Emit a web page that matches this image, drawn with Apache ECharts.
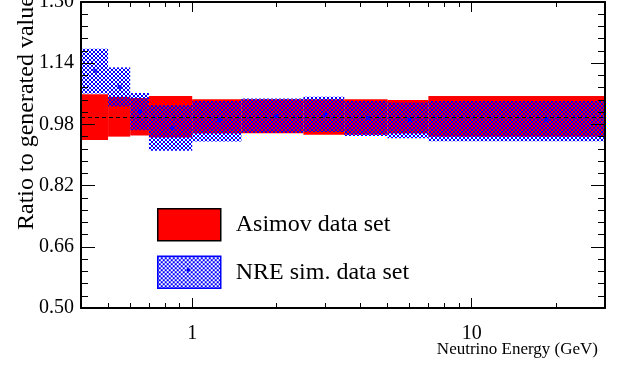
<!DOCTYPE html>
<html>
<head>
<meta charset="utf-8">
<script src="https://cdn.jsdelivr.net/npm/echarts@6/dist/echarts.min.js"></script>
<style>
html,body{margin:0;padding:0;background:#fff;}
#chart{width:626px;height:375px;}
</style>
</head>
<body>
<div id="chart"></div>
<script>
// ---- data ----
const binLow  = [0.4, 0.5, 0.6, 0.7, 1.0, 1.5, 2.5, 3.5, 5, 7];
const binHigh = [0.5, 0.6, 0.7, 1.0, 1.5, 2.5, 3.5, 5, 7, 30];
const asimovLow  = [0.939, 0.948, 0.951, 0.946, 0.956, 0.957, 0.953, 0.953, 0.956, 0.948];
const asimovHigh = [1.059, 1.052, 1.049, 1.054, 1.046, 1.046, 1.046, 1.046, 1.044, 1.054];
const nreEnergy = [0.45, 0.55, 0.65, 0.85, 1.25, 2.0, 3.0, 4.25, 6.0, 18.5];
const nreValue  = [1.120, 1.078, 1.014, 0.971, 0.991, 1.002, 1.005, 0.997, 0.992, 0.992];
const nreLow    = [1.061, 1.027, 0.965, 0.911, 0.935, 0.958, 0.960, 0.950, 0.944, 0.936];
const nreHigh   = [1.178, 1.129, 1.062, 1.030, 1.041, 1.048, 1.052, 1.041, 1.037, 1.041];
const referenceRatio = 1.0;
const xMajorTicks = [1, 10];
const xMinorTicks = [0.5, 0.6, 0.7, 0.8, 0.9, 2, 3, 4, 5, 6, 7, 8, 9, 20];
const yTickMin = 0.5, yTickMax = 1.3, yTickStep = 0.16;
const xMin = 0.4, xMax = 30;
const seriesNames = ['Asimov data set', 'NRE sim. data set'];

// ---- hatch pattern ----
const tile = document.createElement('canvas');
tile.width = 4; tile.height = 4;
const tctx = tile.getContext('2d');
tctx.fillStyle = '#0000ff';
const tileMask = ['.BB.', 'B..B', 'B..B', '.BB.'];
tileMask.forEach((row, y) => { for (let x = 0; x < 4; x++) if (row[x] === 'B') tctx.fillRect(x, y, 1, 1); });
const hatch = { image: tile, repeat: 'repeat' };

const serif = "'Liberation Serif','Times New Roman',serif";

const asimovData = binLow.map((l, i) => [l, binHigh[i], asimovLow[i], asimovHigh[i]]);
const nreBoxData = binLow.map((l, i) => [l, binHigh[i], nreLow[i], nreHigh[i]]);
const nrePoints = nreEnergy.map((e, i) => [e, nreValue[i]]);

function boxRenderer(fill) {
  return function (params, api) {
    const p0 = api.coord([api.value(0), api.value(3)]);
    const p1 = api.coord([api.value(1), api.value(2)]);
    return {
      type: 'rect',
      shape: { x: p0[0], y: p0[1], width: p1[0] - p0[0], height: p1[1] - p0[1] },
      style: { fill: fill, stroke: null }
    };
  };
}

function xAxisDef(pos, major) {
  return {
    type: 'log', logBase: 10, min: xMin, max: xMax, position: pos, z: 10,
    axisLine: { show: major, onZero: false, lineStyle: { color: '#000', width: 2 } },
    axisTick: { show: true, inside: true, length: major ? 10 : 5,
      customValues: major ? xMajorTicks : xMinorTicks,
      lineStyle: { color: '#000', width: 1 } },
    axisLabel: (major && pos === 'bottom') ? {
      show: true, customValues: xMajorTicks, margin: 16,
      fontSize: 20, fontFamily: serif, color: '#000',
      formatter: v => String(v)
    } : { show: false },
    splitLine: { show: false }
  };
}
function yAxisDef(pos) {
  return {
    type: 'value', min: yTickMin, max: yTickMax, interval: yTickStep, position: pos, z: 10,
    axisLine: { show: true, onZero: false, lineStyle: { color: '#000', width: 2 } },
    axisTick: { show: true, inside: true, length: 14, lineStyle: { color: '#000', width: 1 } },
    minorTick: { show: true, splitNumber: 5, length: 7, lineStyle: { color: '#000', width: 1 } },
    axisLabel: pos === 'left' ? {
      show: true, margin: 7, fontSize: 20, fontFamily: serif, color: '#000',
      showMinLabel: true, showMaxLabel: true,
      formatter: v => v.toFixed(2)
    } : { show: false },
    splitLine: { show: false }
  };
}

const chart = echarts.init(document.getElementById('chart'), null, { renderer: 'canvas' });
chart.setOption({
  animation: false,
  backgroundColor: '#fff',
  grid: { left: 81, right: 21, top: 2, bottom: 67, containLabel: false, outerBoundsMode: 'none' },
  xAxis: [xAxisDef('bottom', true), xAxisDef('bottom', false), xAxisDef('top', true), xAxisDef('top', false)],
  yAxis: [yAxisDef('left'), yAxisDef('right')],
  legend: {
    orient: 'vertical', left: 157, top: 208, padding: 0,
    itemWidth: 63, itemHeight: 32, itemGap: 14, selectedMode: false,
    textStyle: { fontSize: 24, fontFamily: serif, color: '#000', padding: [0, 0, 0, 10] },
    data: [
      { name: seriesNames[0], icon: 'rect', itemStyle: { color: '#ff0000', borderColor: '#000', borderWidth: 1.5 } },
      { name: seriesNames[1], icon: 'rect', itemStyle: { color: hatch, borderColor: '#0000ff', borderWidth: 1.5 } }
    ]
  },
  graphic: [
    { type: 'text', x: 27, y: 230, rotation: Math.PI / 2,
      style: { text: 'Ratio to generated value', font: "24px 'Liberation Serif','Times New Roman',serif",
        fill: '#000', align: 'left', verticalAlign: 'middle' } },
    { type: 'text', x: 598, y: 350,
      style: { text: 'Neutrino Energy (GeV)', font: "17px 'Liberation Serif','Times New Roman',serif",
        fill: '#000', align: 'right', verticalAlign: 'middle' } },
    { type: 'rect', shape: { x: 187, y: 268.5, width: 3, height: 3 }, style: { fill: '#0000ff' }, z: 100 }
  ],
  series: [
    { name: seriesNames[0], type: 'custom', xAxisIndex: 0, yAxisIndex: 0, z: 2,
      renderItem: boxRenderer('#ff0000'), encode: { x: [0, 1], y: [2, 3] }, data: asimovData, silent: true,
      itemStyle: { color: '#ff0000' } },
    { name: seriesNames[1], type: 'custom', xAxisIndex: 0, yAxisIndex: 0, z: 3,
      renderItem: boxRenderer(hatch), encode: { x: [0, 1], y: [2, 3] }, data: nreBoxData, silent: true,
      itemStyle: { color: '#0000ff' } },
    { name: 'NRE points', type: 'scatter', xAxisIndex: 0, yAxisIndex: 0, z: 5,
      symbol: 'rect', symbolSize: 4, itemStyle: { color: '#0000ff' }, data: nrePoints, silent: true,
      markLine: { silent: true, symbol: ['none', 'none'], label: { show: false },
        lineStyle: { color: '#000', type: [4, 3], width: 1 },
        data: [{ yAxis: referenceRatio }] } }
  ]
});
</script>
</body>
</html>
